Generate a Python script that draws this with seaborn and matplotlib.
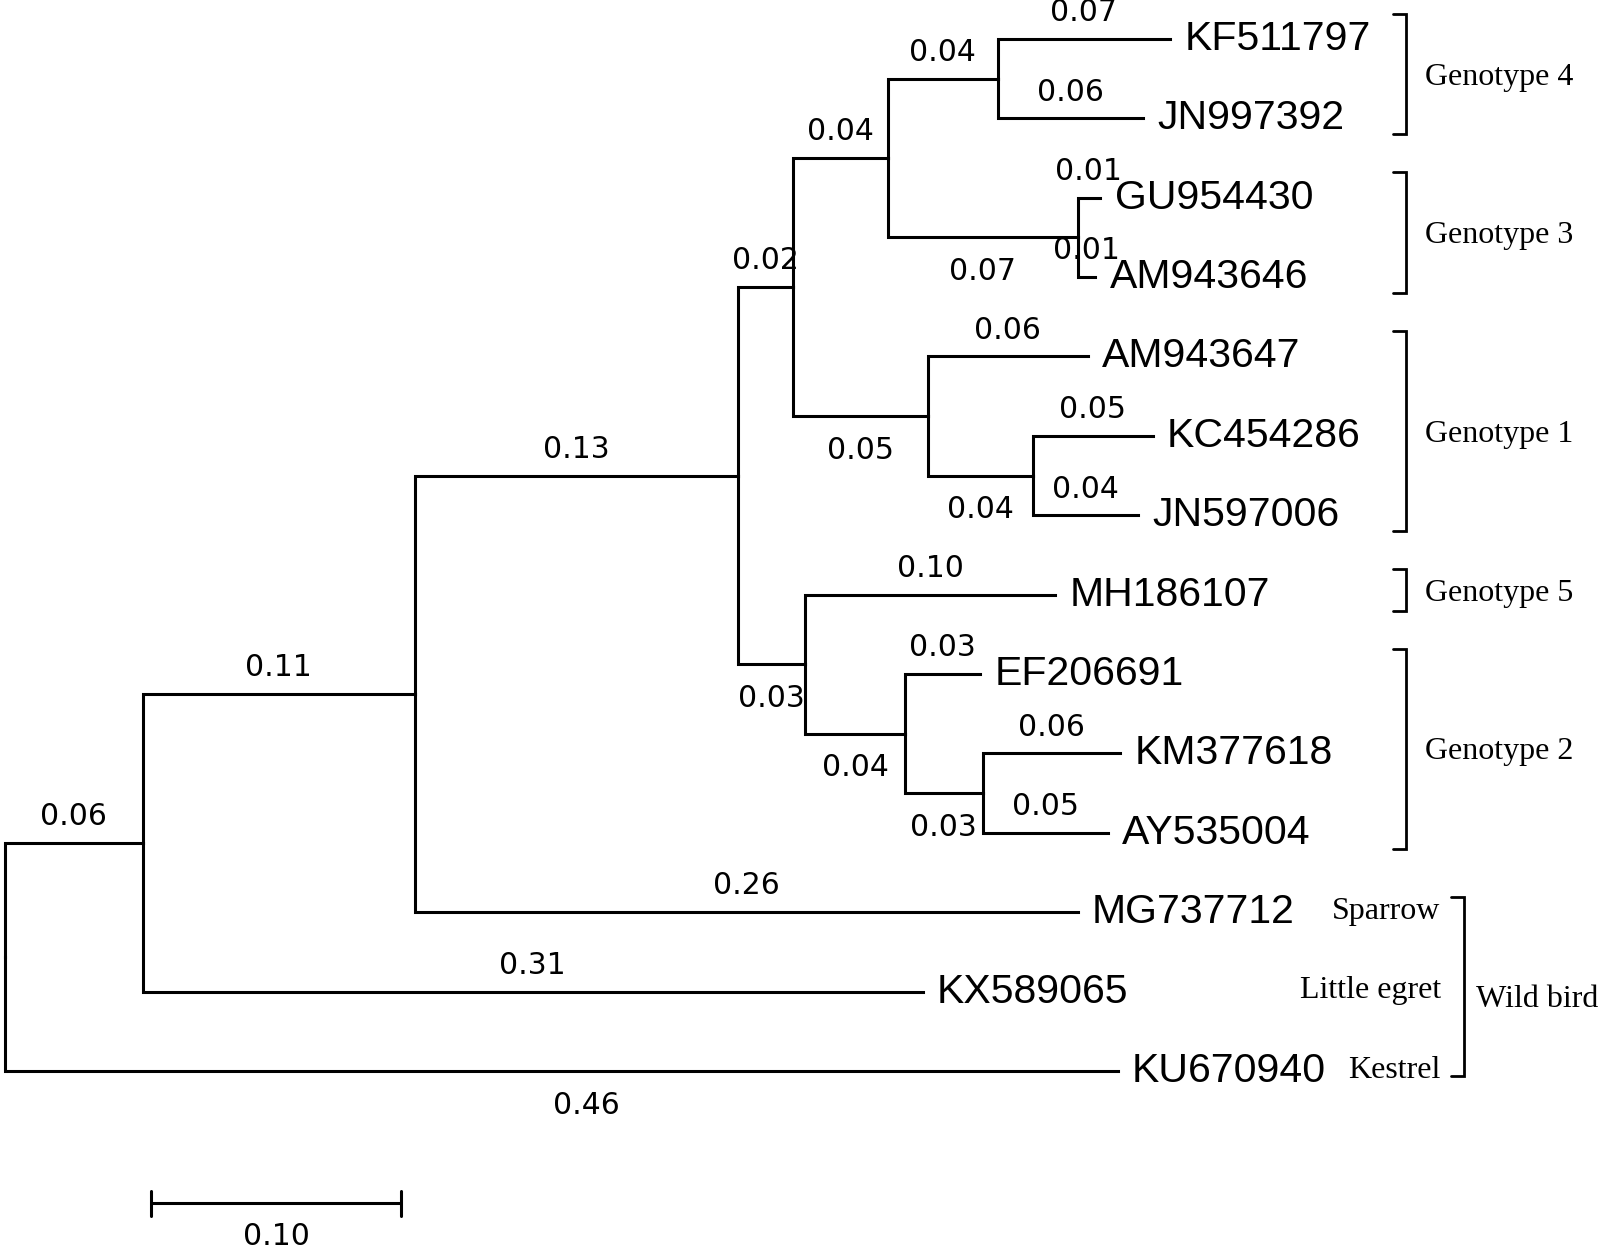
"""
phylogenetic tree of the genotypes
"""
import matplotlib
matplotlib.use('Agg')
import numpy as np
import pandas as pd
import matplotlib.pyplot as plt
import seaborn as sns

# tree edges, upper child first
parents = ["root", "root", "A", "A", "B", "B", "C", "C", "D", "D", "F", "F", "H", "H",
           "I", "I", "G", "G", "J", "J", "E", "E", "K", "K", "L", "L"]
children = ["A", "KU670940", "B", "KX589065", "C", "MG737712", "D", "E", "F", "G", "H", "I",
            "KF511797", "JN997392", "GU954430", "AM943646", "AM943647", "J",
            "KC454286", "JN597006", "MH186107", "K", "EF206691", "L", "KM377618", "AY535004"]
branch_len = [0.055, 0.445, 0.109, 0.312, 0.129, 0.265, 0.022, 0.027, 0.038, 0.054,
              0.044, 0.076, 0.069, 0.058, 0.009, 0.007, 0.064, 0.042, 0.048, 0.042,
              0.100, 0.040, 0.030, 0.031, 0.055, 0.050]
branch_lab = ["0.06", "0.46", "0.11", "0.31", "0.13", "0.26", "0.02", "0.03", "0.04", "0.05",
              "0.04", "0.07", "0.07", "0.06", "0.01", "0.01", "0.06", "0.04", "0.05", "0.04",
              "0.10", "0.04", "0.03", "0.03", "0.06", "0.05"]

leaf_order = ["KF511797", "JN997392", "GU954430", "AM943646", "AM943647", "KC454286",
              "JN597006", "MH186107", "EF206691", "KM377618", "AY535004", "MG737712",
              "KX589065", "KU670940"]

groups = ["Genotype 4", "Genotype 3", "Genotype 1", "Genotype 5", "Genotype 2"]
group_first = ["KF511797", "GU954430", "AM943647", "MH186107", "EF206691"]
group_last = ["JN997392", "AM943646", "JN597006", "MH186107", "AY535004"]

hosts = ["Sparrow", "Little egret", "Kestrel"]
host_leaves = ["MG737712", "KX589065", "KU670940"]
wild_label = "Wild bird"

scale_len = 0.10
scale_lab = "0.10"

# labels drawn under the branch
below = ["KU670940", "I", "G", "J", "E", "K", "L"]

# layout
xpos = {"root": 0.0}
for p, c, l in zip(parents, children, branch_len):
    xpos[c] = xpos[p] + l

ypos = {name: float(i) for i, name in enumerate(leaf_order)}
kids = {}
for p, c in zip(parents, children):
    kids.setdefault(p, []).append(c)


def node_y(n):
    if n not in ypos:
        ypos[n] = np.mean([node_y(k) for k in kids[n]])
    return ypos[n]


node_y("root")

rows = []
for i, (p, c) in enumerate(zip(parents, children)):
    for x, y in [(xpos[p], ypos[p]), (xpos[p], ypos[c]), (xpos[c], ypos[c])]:
        rows.append({"seg": i, "x": x, "y": y})
df_seg = pd.DataFrame(rows)

sns.set_theme(style="white")
plt.rcParams['font.family'] = ['DejaVu Sans']
plt.rcParams['text.color'] = 'black'

fig = plt.figure(figsize=(16, 12.53), dpi=100)
ax = fig.add_axes([0, 0, 1, 1])
sns.lineplot(data=df_seg, x="x", y="y", units="seg", estimator=None, sort=False,
             color="black", linewidth=2.2, ax=ax, solid_joinstyle="miter",
             solid_capstyle="projecting")

# branch length labels
for p, c, lab in zip(parents, children, branch_lab):
    xm = (xpos[p] + xpos[c]) / 2
    if c == "KU670940":
        xm += 0.01
    if c in below:
        ax.text(xm, ypos[c] + 0.43, lab, ha="center", va="center", fontsize=21.5,
                family="DejaVu Sans")
    else:
        ax.text(xm, ypos[c] - 0.33, lab, ha="center", va="center", fontsize=21.5,
                family="DejaVu Sans")

# leaf names
for name in leaf_order:
    ax.text(xpos[name] + 0.0058, ypos[name], name, ha="left", va="center",
            fontsize=29.5, family="Liberation Sans")

# genotype brackets
bx = 0.5604
for g, a, b in zip(groups, group_first, group_last):
    y0 = ypos[a] - 0.32
    y1 = ypos[b] + 0.2
    ax.plot([bx - 0.0053, bx, bx, bx - 0.0053], [y0, y0, y1, y1], color="black",
            lw=2.0, solid_joinstyle="miter")
    ax.text(bx + 0.0077, (y0 + y1) / 2 + 0.04, g, ha="left", va="center", fontsize=23,
            family="Liberation Serif")

# wild bird bracket
wx = 0.5837
y0 = ypos[host_leaves[0]] - 0.19
y1 = ypos[host_leaves[-1]] + 0.06
ax.plot([wx - 0.0053, wx, wx, wx - 0.0053], [y0, y0, y1, y1], color="black",
        lw=2.0, solid_joinstyle="miter")
ax.text(wx + 0.0049, np.mean([ypos[h] for h in host_leaves]) + 0.1, wild_label,
        ha="left", va="center", fontsize=23, family="Liberation Serif")
for h, leaf in zip(hosts, host_leaves):
    ax.text(0.5743, ypos[leaf] - 0.01, h, ha="right", va="center", fontsize=23,
            family="Liberation Serif")

# scale bar
sx = 0.0584
sy = 14.67
ax.plot([sx, sx + scale_len], [sy, sy], color="black", lw=2.2)
ax.plot([sx, sx], [sy - 0.16, sy + 0.16], color="black", lw=2.2)
ax.plot([sx + scale_len, sx + scale_len], [sy - 0.16, sy + 0.16], color="black", lw=2.2)
ax.text(sx + scale_len / 2, sy + 0.42, scale_lab, ha="center", va="center", fontsize=21.5,
        family="DejaVu Sans")

ax.set_xlim(-0.002, 0.638)
ax.set_ylim(15.294, -0.491)
ax.axis("off")

fig.savefig("out.png", dpi=100, facecolor="white")
